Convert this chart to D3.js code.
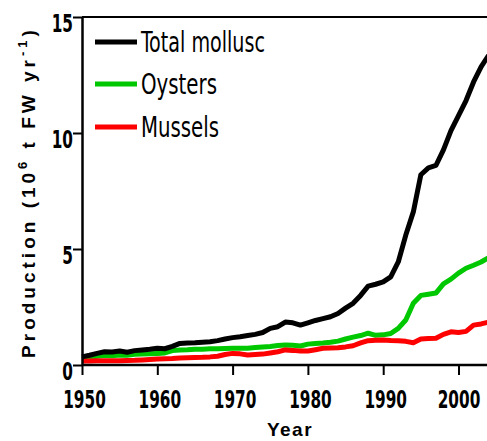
<!DOCTYPE html>
<html>
<head>
<meta charset="utf-8">
<script src="https://cdn.jsdelivr.net/npm/d3@7"></script>
<style>
  body { margin: 0; background: #fff; }
  svg { display: block; }
</style>
</head>
<body>
<svg id="chart" width="487" height="441"></svg>
<script>
const years = d3.range(1950, 2005);

const totalMollusc = [
  0.35, 0.42, 0.50, 0.57, 0.56, 0.60, 0.55, 0.62, 0.65, 0.68,
  0.72, 0.70, 0.80, 0.93, 0.95, 0.96, 0.98, 1.00, 1.05, 1.12,
  1.18, 1.22, 1.27, 1.32, 1.40, 1.58, 1.65, 1.85, 1.82, 1.72,
  1.82, 1.92, 2.00, 2.08, 2.22, 2.45, 2.66, 3.00, 3.40, 3.48,
  3.58, 3.80, 4.44, 5.60, 6.60, 8.20, 8.50, 8.60, 9.27, 10.10,
  10.75, 11.40, 12.20, 12.85, 13.35
];

const oysters = [
  0.26, 0.32, 0.38, 0.42, 0.40, 0.43, 0.42, 0.46, 0.47, 0.48,
  0.50, 0.52, 0.62, 0.65, 0.66, 0.68, 0.68, 0.70, 0.70, 0.71,
  0.72, 0.72, 0.72, 0.75, 0.78, 0.80, 0.84, 0.86, 0.85, 0.82,
  0.90, 0.93, 0.95, 0.98, 1.03, 1.12, 1.20, 1.27, 1.37, 1.28,
  1.30, 1.36, 1.58, 1.94, 2.66, 3.00, 3.05, 3.10, 3.50, 3.70,
  3.96, 4.17, 4.30, 4.44, 4.62
];

const mussels = [
  0.17, 0.17, 0.18, 0.18, 0.18, 0.18, 0.19, 0.20, 0.22, 0.24,
  0.26, 0.27, 0.28, 0.30, 0.31, 0.32, 0.33, 0.35, 0.38, 0.45,
  0.50, 0.48, 0.43, 0.45, 0.47, 0.52, 0.57, 0.65, 0.63, 0.60,
  0.60, 0.66, 0.72, 0.73, 0.74, 0.78, 0.83, 0.95, 1.05, 1.07,
  1.08, 1.06, 1.05, 1.02, 0.96, 1.12, 1.14, 1.15, 1.32, 1.43,
  1.40, 1.45, 1.72, 1.77, 1.85
];

const xTicks = [1950, 1960, 1970, 1980, 1990, 2000];
const yTicks = [0, 5, 10, 15];

const series = [
  { name: 'Oysters', color: '#00c800', values: oysters },
  { name: 'Mussels', color: '#ff0000', values: mussels },
  { name: 'Total mollusc', color: '#000000', values: totalMollusc }
];
const legendOrder = ['Total mollusc', 'Oysters', 'Mussels'];

const margin = { left: 82, top: 17, bottom: 76 };
const width = 487, height = 441;
const narrow = '"DejaVu Sans Condensed", "Liberation Sans Narrow", "Arial Narrow", sans-serif';
const wide = '"Liberation Sans", Arial, sans-serif';
const squeeze = 0.68;

const svg = d3.select('#chart');

const x = d3.scaleLinear()
  .domain([1950, 2004])
  .range([margin.left, margin.left + 54 * 7.53]);

const y = d3.scaleLinear()
  .domain([0, 15])
  .range([height - margin.bottom, margin.top]);

// lines
const line = d3.line()
  .x((d, i) => x(years[i]))
  .y(d => y(d));

svg.selectAll('path.series')
  .data(series)
  .enter()
  .append('path')
  .attr('class', 'series')
  .attr('d', d => line(d.values))
  .attr('fill', 'none')
  .attr('stroke', d => d.color)
  .attr('stroke-width', 5)
  .attr('stroke-linejoin', 'round');

// top frame
svg.append('line')
  .attr('x1', margin.left).attr('x2', width)
  .attr('y1', y(15)).attr('y2', y(15))
  .attr('stroke', '#000').attr('stroke-width', 2);

// x axis
const xAxis = svg.append('g')
  .attr('transform', `translate(0, ${y(0)})`)
  .call(d3.axisBottom(x).tickValues(xTicks).tickFormat(d3.format('d')).tickSize(10).tickSizeOuter(0));
xAxis.select('.domain').attr('stroke-width', 2.5).attr('d', `M${margin.left},0H${width}`);
xAxis.selectAll('.tick line').attr('stroke-width', 2);
xAxis.selectAll('.tick text')
  .attr('y', 0)
  .attr('dy', 43)
  .attr('x', d => (d === 2000 ? 0 : 2) / squeeze)
  .attr('transform', `scale(${squeeze},1)`)
  .attr('font-family', narrow)
  .attr('font-weight', 'bold')
  .attr('font-size', 25)
  .attr('fill', '#000');

// y axis
const yAxis = svg.append('g')
  .attr('transform', `translate(${margin.left}, 0)`)
  .call(d3.axisLeft(y).tickValues(yTicks).tickSize(9).tickSizeOuter(0));
yAxis.select('.domain').attr('stroke-width', 2.5);
yAxis.selectAll('.tick line').attr('stroke-width', 2);
yAxis.selectAll('.tick text')
  .attr('x', -9 / squeeze)
  .attr('dy', 14)
  .attr('transform', `scale(${squeeze},1)`)
  .attr('font-family', narrow)
  .attr('font-weight', 'bold')
  .attr('font-size', 25)
  .attr('fill', '#000');

// legend
const legendY = [42, 84, 127];
const legendW = [124, 76, 78];
const legend = svg.selectAll('g.legend')
  .data(legendOrder)
  .enter()
  .append('g')
  .attr('class', 'legend')
  .attr('transform', (d, i) => `translate(0, ${legendY[i]})`);

legend.append('line')
  .attr('x1', 95).attr('x2', 137)
  .attr('stroke', d => series.find(s => s.name === d).color)
  .attr('stroke-width', 5);

legend.append('text')
  .attr('x', 141)
  .attr('y', 10)
  .attr('font-family', narrow)
  .attr('font-size', 28)
  .attr('textLength', (d, i) => legendW[i])
  .attr('lengthAdjust', 'spacingAndGlyphs')
  .text(d => d);

// axis titles
svg.append('text')
  .attr('x', 290)
  .attr('y', 436)
  .attr('text-anchor', 'middle')
  .attr('font-family', wide)
  .attr('font-weight', 'bold')
  .attr('font-size', 19)
  .attr('letter-spacing', 1.5)
  .text('Year');

const yTitle = svg.append('text')
  .attr('transform', 'translate(35, 192) rotate(-90)')
  .attr('text-anchor', 'middle')
  .attr('font-family', wide)
  .attr('font-weight', 'bold')
  .attr('font-size', 19)
  .attr('letter-spacing', 4);
yTitle.append('tspan').text('Production (10');
yTitle.append('tspan').attr('font-size', 13).attr('dy', -8).text('6');
yTitle.append('tspan').attr('dy', 8).text(' t FW yr');
yTitle.append('tspan').attr('font-size', 13).attr('dy', -8).text('-1');
yTitle.append('tspan').attr('dy', 8).text(')');
</script>
</body>
</html>
